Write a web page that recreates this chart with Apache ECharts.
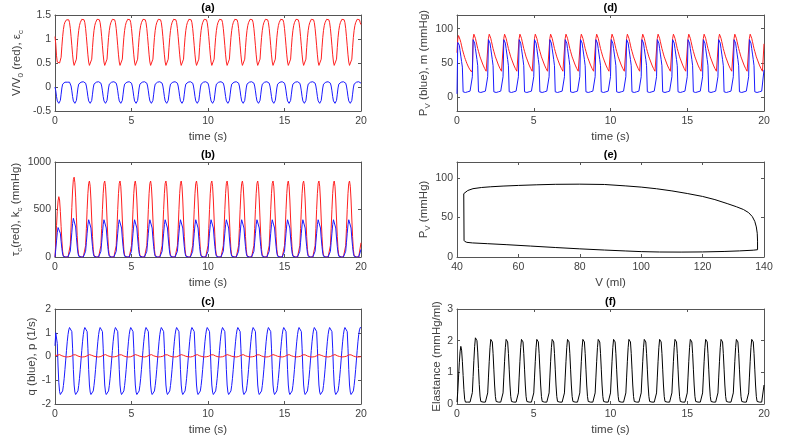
<!DOCTYPE html>
<html>
<head>
<meta charset="utf-8">
<script src="https://cdn.jsdelivr.net/npm/echarts@6/dist/echarts.min.js"></script>
<style>
html,body{margin:0;padding:0;background:#fff;}
#chart{width:786px;height:442px;}
</style>
</head>
<body>
<div id="chart"></div>
<script>
// ---------------- DATA ----------------
// sampling interval inside one heart cycle (period = 1 s, 20 cycles)
const T_STEP = 0.05;

// (a) V/V0 (red) and eps_c (blue)
const aRedFirst  = [1.05,0.90,0.65,0.52,0.50,0.50,0.50,0.52,0.62,0.85,1.05,1.20,1.30,1.35,1.38,1.40,1.41,1.41,1.40,1.34];
const aRedCycle  = [1.22,1.05,0.86,0.67,0.52,0.45,0.43,0.45,0.58,0.82,1.03,1.18,1.28,1.34,1.38,1.41,1.42,1.42,1.40,1.34];
const aRedLast   = 1.30;
const aBlueFirst = [0.00,-0.08,-0.20,-0.29,-0.33,-0.34,-0.33,-0.28,-0.15,-0.02,0.06,0.09,0.10,0.10,0.10,0.10,0.10,0.10,0.10,0.10];
const aBlueCycle = [0.08,0.02,-0.08,-0.20,-0.29,-0.33,-0.34,-0.33,-0.28,-0.15,-0.02,0.06,0.09,0.10,0.10,0.10,0.11,0.11,0.11,0.10];
const aBlueLast  = 0.08;

// (b) tau_c (red) and k_c (blue), mmHg
const bRedFirst   = [0,150,330,480,590,635,600,480,320,170,60,10,0,0,0,0,0,0,0,15];
const bRedSecond  = [126,315,520,705,815,840,782,630,420,225,84,16,0,0,0,0,0,0,0,15];
const bRedCycle   = [120,300,500,670,775,800,745,600,400,215,80,15,0,0,0,0,0,0,0,15];
const bRedLast    = 150;
const bBlueFirst  = [0,80,170,255,310,330,310,250,165,88,30,5,0,0,0,0,0,0,0,8];
const bBlueSecond = [62,160,260,352,407,420,391,316,207,114,41,8,0,0,0,0,0,0,0,8];
const bBlueCycle  = [60,155,250,340,392,405,377,305,200,110,40,8,0,0,0,0,0,0,0,8];
const bBlueLast   = 80;

// (c) q (blue) and p (red), 1/s
const cBlueFirst = [0.45,1.00,1.08,0.55,-0.40,-1.10,-1.48,-1.60,-1.62,-1.58,-1.45,-1.22,-0.92,-0.55,-0.15,0.25,0.62,0.92,1.12,1.22];
const cBlueCycle = [1.25,1.30,1.05,0.35,-0.55,-1.20,-1.50,-1.60,-1.62,-1.58,-1.45,-1.22,-0.92,-0.55,-0.15,0.25,0.62,0.92,1.12,1.22];
const cBlueLast  = 1.22;
const cRedFirst  = [0.05,0.03,0.04,0.05,0.07,0.08,0.08,0.07,0.05,0.03,0.02,0.01,0.00,-0.01,-0.01,-0.02,-0.02,-0.02,-0.01,-0.01];
const cRedCycle  = [0.00,0.01,0.03,0.05,0.07,0.08,0.08,0.07,0.05,0.03,0.02,0.01,0.00,-0.01,-0.01,-0.02,-0.02,-0.02,-0.01,-0.01];
const cRedLast   = 0.00;

// (d) P_V (blue) and m (red), mmHg
const dRedFirst  = [65,85,90,88,84,80,75,70,66,62,58,55,52,49,47,44,42,40,38,37];
const dRedCycle  = [40,86,92,90,86,81,76,71,67,63,59,56,53,50,47,45,42,40,38,37];
const dRedLast   = 78;
const dBlueFirst = [5,80,82,76,68,60,52,44,8,7,7,7,7.5,7.5,8,8,8.5,9,9,10];
const dBlueCycle = [30,84,85,79,71,63,55,46,8,7,7,7,7.5,7.5,8,8,8.5,9,9,10];
const dBlueLast  = 40;

// (e) pressure-volume loop
const pvVolume   = [42.3,42.2,42.6,43.5,45.2,48,51,55,60,66,72,80,88,95,100,105,110,115,120,124,128,131,133.3,135,136.2,137,137.5,137.8,137.9,137.9,136.5,132,127,120,113,106,100,95,88,80,72,64,56,50,45,43.2,42.5,42.3];
const pvPressure = [21,80,82.5,84,86.3,87.8,88.7,89.6,90.4,91.2,91.8,92,91.6,89.8,88.3,86.2,83.5,80.2,76.5,72.5,67.5,63.5,60,56,51,45,38,30,20,9.2,8.6,7.7,7,6.4,6.2,6.3,6.8,7.6,8.8,10.3,12,13.8,15.6,16.8,17.8,18.5,19.8,21];

// (f) elastance, mmHg/ml
const fFirst  = [0.06,0.40,0.85,1.30,1.65,1.82,1.70,1.35,0.90,0.45,0.15,0.06,0.06,0.06,0.06,0.06,0.06,0.06,0.06,0.10];
const fSecond = [0.36,0.87,1.38,1.82,2.09,2.15,2.00,1.64,1.12,0.62,0.25,0.08,0.06,0.06,0.06,0.06,0.06,0.06,0.06,0.10];
const fCycle  = [0.35,0.85,1.35,1.78,2.04,2.10,1.96,1.60,1.10,0.60,0.24,0.08,0.06,0.06,0.06,0.06,0.06,0.06,0.06,0.10];
const fLast   = 0.60;

// axis ticks
const timeTicks = {min: 0, max: 20, interval: 5};
const volTicks  = {min: 40, max: 140, interval: 20};
const pressureTickValues = [0, 50, 100];

// ---------------- BUILD ----------------
function cycles(first, second, cycle, last) {
  const out = [];
  for (let c = 0; c < 20; c++) {
    const src = c === 0 ? first : (c === 1 ? second : cycle);
    src.forEach((v, i) => out.push([+(c + i * T_STEP).toFixed(2), v]));
  }
  out.push([20, last]);
  return out;
}

const FONT = "'Liberation Sans', Arial, sans-serif";
const TXT = '#404040';
const LINE = '#555555';
const plainNum = v => String(v);

const grids = [
  {left: 55,  top: 15,  width: 306, height: 96},  // a
  {left: 55,  top: 162, width: 306, height: 95},  // b
  {left: 55,  top: 309, width: 306, height: 95},  // c
  {left: 457, top: 15,  width: 307, height: 96},  // d
  {left: 457, top: 162, width: 307, height: 95},  // e
  {left: 457, top: 309, width: 307, height: 95}   // f
];

const rich = {
  n: {fontSize: 11.5, fontFamily: FONT, color: TXT, lineHeight: 16},
  s: {fontSize: 8, fontFamily: FONT, color: TXT, verticalAlign: 'bottom', lineHeight: 16, padding: [7, 0, 0, 0]}
};

const xNames = ['time (s)', 'time (s)', 'time (s)', 'time (s)', 'V (ml)', 'time (s)'];
const yNames = [
  '{n|V/V}{s|0}{n| (red), ε}{s|c}',
  '{n|τ}{s|c}{n|(red), k}{s|c}{n| (mmHg)}',
  '{n|q (blue), p (1/s)}',
  '{n|P}{s|V}{n| (blue), m (mmHg)}',
  '{n|P}{s|V}{n| (mmHg)}',
  '{n|Elastance (mmHg/ml)}'
];
const yGaps = [30, 24, 15, 25, 25, 10];
const yRanges = [
  {min: -0.5, max: 1.5, interval: 0.5},
  {min: 0, max: 1000, interval: 500},
  {min: -2, max: 2, interval: 1},
  {min: -20, max: 120, custom: pressureTickValues},
  {min: 0, max: 120, custom: pressureTickValues},
  {min: 0, max: 3, interval: 1}
];

function baseAxis(extra) {
  return Object.assign({
    type: 'value',
    axisLine: {show: true, onZero: false, lineStyle: {color: LINE, width: 1}},
    axisTick: {show: true, inside: true, length: 3, lineStyle: {color: LINE}},
    axisLabel: {color: TXT, fontSize: 10.5, fontFamily: FONT, formatter: plainNum},
    splitLine: {show: false}
  }, extra);
}

const xAxes = [], yAxes = [];
for (let g = 0; g < 6; g++) {
  const xr = g === 4 ? volTicks : timeTicks;
  xAxes.push(baseAxis({gridIndex: g, position: 'bottom', min: xr.min, max: xr.max, interval: xr.interval,
    name: xNames[g], nameLocation: 'middle', nameGap: 20,
    nameTextStyle: {fontSize: 11.5, fontFamily: FONT, color: TXT},
    axisLabel: {color: TXT, fontSize: 10.5, fontFamily: FONT, margin: 5, formatter: plainNum}}));
}
for (let g = 0; g < 6; g++) {
  const xr = g === 4 ? volTicks : timeTicks;
  const ax = baseAxis({gridIndex: g, position: 'top', min: xr.min, max: xr.max, interval: xr.interval});
  ax.axisLabel = {show: false};
  xAxes.push(ax);
}
function yAxisFor(g, pos, withLabel) {
  const r = yRanges[g];
  const ax = baseAxis({gridIndex: g, position: pos, min: r.min, max: r.max});
  if (r.custom) {
    ax.axisTick = Object.assign({}, ax.axisTick, {customValues: r.custom});
    ax.axisLabel = Object.assign({}, ax.axisLabel, {customValues: r.custom});
  } else {
    ax.interval = r.interval;
  }
  ax.axisLabel = Object.assign({}, ax.axisLabel, {margin: 4});
  if (withLabel) {
    ax.name = yNames[g];
    ax.nameLocation = 'middle';
    ax.nameGap = yGaps[g];
    ax.nameRotate = 90;
    ax.nameTextStyle = {rich: rich, fontSize: 11.5, fontFamily: FONT, color: TXT};
  } else {
    ax.axisLabel.show = false;
  }
  return ax;
}
for (let g = 0; g < 6; g++) yAxes.push(yAxisFor(g, 'left', true));
for (let g = 0; g < 6; g++) yAxes.push(yAxisFor(g, 'right', false));

function line(g, data, color) {
  return {type: 'line', xAxisIndex: g, yAxisIndex: g, data: data, showSymbol: false,
    lineStyle: {color: color, width: 1}, itemStyle: {color: color}, animation: false, silent: true};
}
const RED = '#ff2020', BLUE = '#1a1aff', BLACK = '#000000';
const pvData = pvVolume.map((v, i) => [v, pvPressure[i]]);

const series = [
  line(0, cycles(aRedFirst, aRedCycle, aRedCycle, aRedLast), RED),
  line(0, cycles(aBlueFirst, aBlueCycle, aBlueCycle, aBlueLast), BLUE),
  line(1, cycles(bRedFirst, bRedSecond, bRedCycle, bRedLast), RED),
  line(1, cycles(bBlueFirst, bBlueSecond, bBlueCycle, bBlueLast), BLUE),
  line(2, cycles(cBlueFirst, cBlueCycle, cBlueCycle, cBlueLast), BLUE),
  line(2, cycles(cRedFirst, cRedCycle, cRedCycle, cRedLast), RED),
  line(3, cycles(dRedFirst, dRedCycle, dRedCycle, dRedLast), RED),
  line(3, cycles(dBlueFirst, dBlueCycle, dBlueCycle, dBlueLast), BLUE),
  line(4, pvData, BLACK),
  line(5, cycles(fFirst, fSecond, fCycle, fLast), BLACK)
];

const panelTitles = ['(a)', '(b)', '(c)', '(d)', '(e)', '(f)'];
const graphics = panelTitles.map((t, g) => ({
  type: 'text',
  x: grids[g].left + grids[g].width / 2,
  y: grids[g].top - 7,
  style: {text: t, fill: '#000', font: 'bold 11px ' + FONT, align: 'center', verticalAlign: 'middle'}
}));

const chart = echarts.init(document.getElementById('chart'), null, {renderer: 'canvas'});
chart.setOption({
  animation: false,
  backgroundColor: '#ffffff',
  grid: grids,
  xAxis: xAxes,
  yAxis: yAxes,
  series: series,
  graphic: graphics
});
</script>
</body>
</html>
